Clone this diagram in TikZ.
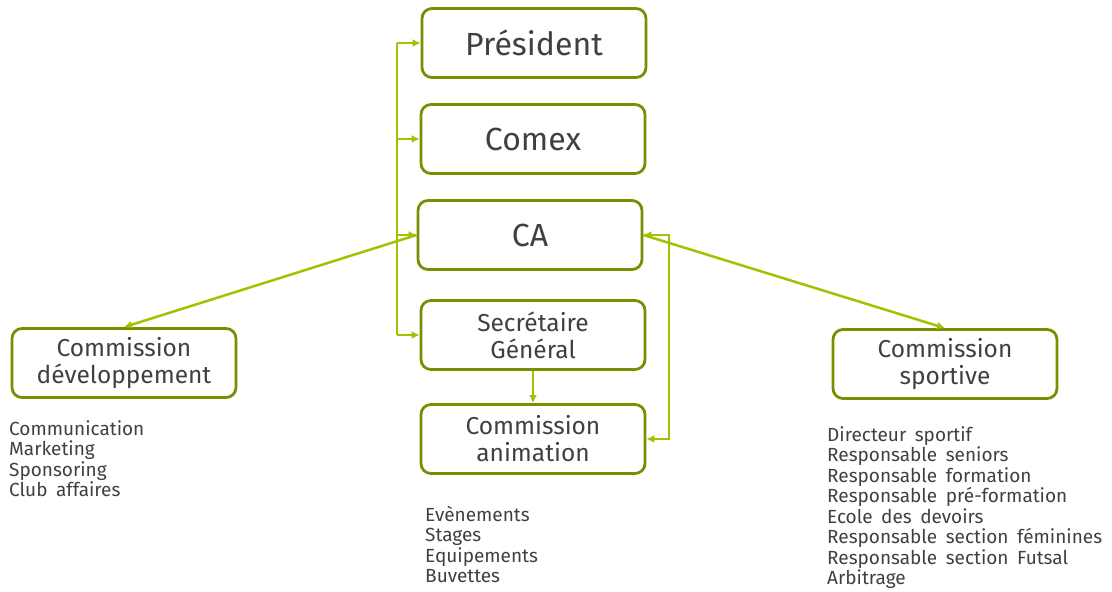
\documentclass[tikz,border=0pt]{standalone}
\usepackage{fontspec}
\setmainfont{Fira Sans}
\usepackage{tikz}
\usetikzlibrary{calc,positioning,arrows.meta}

\definecolor{boxgreen}{HTML}{7B8D00}
\definecolor{linegreen}{HTML}{A2C100}
\definecolor{textgrey}{HTML}{404040}

\newcommand{\listfont}{\fontsize{19}{20.5}\selectfont\spaceskip=0.45em plus 0.1em\relax}

\tikzset{
	box/.style={draw=boxgreen,line width=2.8pt,rounded corners=10pt,minimum width=224pt,minimum height=69pt,align=center,text=textgrey,font=\fontsize{24.5}{27}\selectfont},
	bigbox/.style={box,font=\fontsize{32}{36}\selectfont},
	link/.style={draw=linegreen,line width=2.5pt,-{Latex[length=8pt,width=8pt]}},
	list/.style={anchor=north west,align=left,inner sep=0pt,text=textgrey,font=\listfont},
}

\begin{document}
\begin{tikzpicture}[x=1pt,y=-1pt]
		\useasboundingbox (0,0) rectangle (1112,592);

		\node[bigbox] (pres) at (534,43) {Président};
		\node[bigbox] (comex) at (533,139) {Comex};
		\node[bigbox] (ca) at (530,235) {CA};
		\node[box] (sg) at (533,335) {Secrétaire\\Général};
		\node[box] (anim) at (533,439) {Commission\\animation};
		\node[box] (dev) at (124,363) {Commission\\développement};
		\node[box] (sport) at (945,364) {Commission\\sportive};

		\node[list] (devlist) at (9,420) {Communication\\Marketing\\Sponsoring\\Club affaires};
		\node[list] (animlist) at (425,506) {Evènements\\Stages\\Equipements\\Buvettes};
		\node[list] (sportlist) at (827,426) {Directeur sportif\\Responsable seniors\\Responsable formation\\Responsable pré-formation\\Ecole des devoirs\\Responsable section féminines\\Responsable section Futsal\\Arbitrage};

		\coordinate (spine) at (397,0);
		\coordinate (loop) at (669,0);
		\draw[link,-] (pres.west -| spine) -- (sg.west -| spine);
		\foreach \n in {pres,comex,ca,sg}
			\draw[link] (\n.west -| spine) -- (\n.west);

		\draw[link] (ca.west) -- (dev.north);
		\draw[link] (ca.east) -- (sport.north);
		\draw[link,{Latex[length=8pt,width=8pt]}-{Latex[length=8pt,width=8pt]}] (ca.east) -- (ca.east -| loop) -- (anim.east -| loop) -- (anim.east);
		\draw[link] (sg.south) -- (anim.north);
	\end{tikzpicture}
\end{document}
